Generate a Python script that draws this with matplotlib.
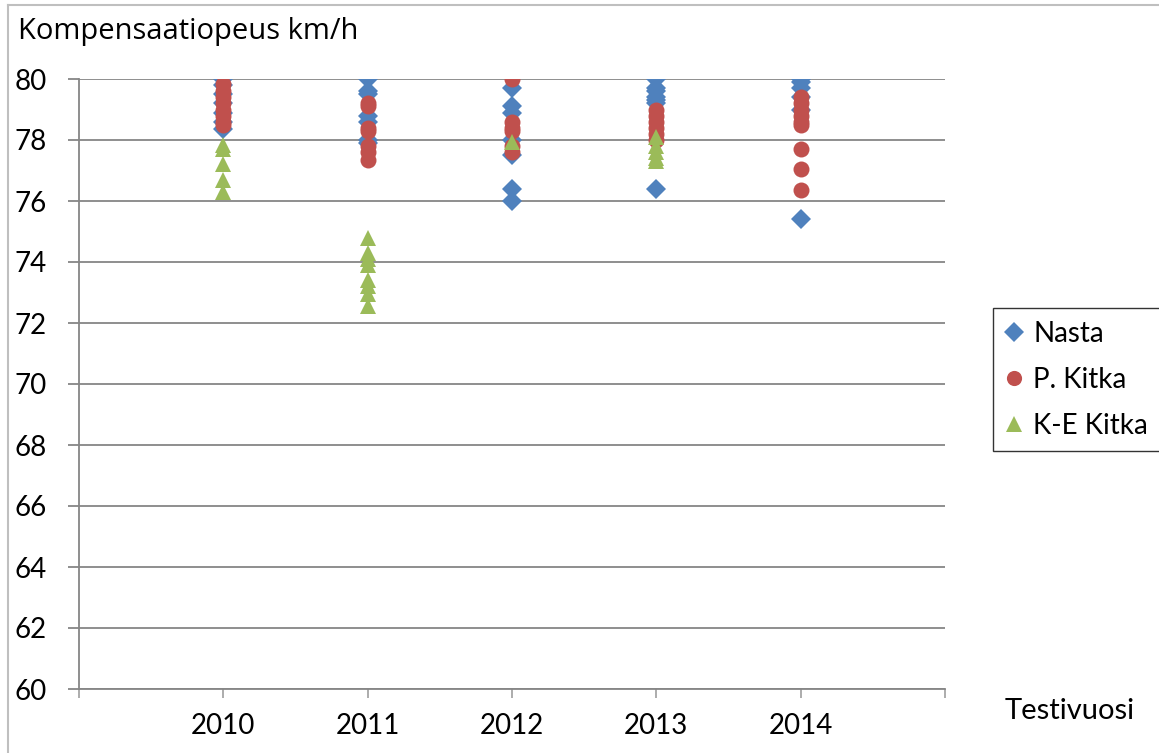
import matplotlib
matplotlib.use("Agg")
import matplotlib.pyplot as plt
from matplotlib.lines import Line2D

plt.rcParams["font.family"] = ["Lato", "DejaVu Sans"]

years = [2010, 2011, 2012, 2013, 2014]

# compensation speeds per test year, one list per tyre group
nasta = {
    2010: [80.0, 79.8, 79.5, 79.2, 78.9, 78.6, 78.35],
    2011: [80.0, 79.6, 79.5, 78.8, 78.6, 78.0, 77.9],
    2012: [79.7, 79.1, 78.9, 78.0, 77.5, 76.4, 76.0],
    2013: [80.0, 79.7, 79.6, 79.4, 79.3, 79.2, 76.4],
    2014: [80.0, 79.9, 79.7, 79.4, 79.0, 75.4],
}
p_kitka = {
    2010: [79.85, 79.6, 79.4, 79.2, 79.0, 78.8, 78.6, 78.5],
    2011: [79.2, 79.1, 78.4, 78.3, 77.8, 77.6, 77.35],
    2012: [80.0, 78.6, 78.4, 78.3, 77.8, 77.6],
    2013: [79.0, 78.8, 78.6, 78.4, 78.2, 78.0],
    2014: [79.4, 79.2, 79.0, 78.8, 78.6, 78.5, 77.7, 77.05, 76.35],
}
ke_kitka = {
    2010: [77.85, 77.7, 77.2, 76.7, 76.3],
    2011: [74.8, 74.3, 74.1, 73.9, 73.4, 73.2, 72.95, 72.55],
    2012: [77.95],
    2013: [78.1, 77.8, 77.6, 77.4, 77.3],
    2014: [],
}

series = [
    ("Nasta", nasta, "D", "#4F81BD", 10.5),
    ("P. Kitka", p_kitka, "o", "#C0504D", 11.5),
    ("K-E Kitka", ke_kitka, "^", "#9BBB59", 12),
]

W, H = 1159, 753
fig = plt.figure(figsize=(W / 100, H / 100), dpi=100)
ax = fig.add_axes([79 / W, (H - 689) / H, 866 / W, 610 / H])

grid_col = "#868686"
handles = []
for name, data, mk, col, ms in series:
    xs, ys = [], []
    for yr in years:
        xs += [yr] * len(data[yr])
        ys += data[yr]
    ax.plot(xs, ys, linestyle="none", marker=mk, color=col, markersize=ms,
            markeredgewidth=0, zorder=3)
    handles.append(Line2D([], [], linestyle="none", marker=mk, color=col,
                          markersize=ms * 0.95, markeredgewidth=0, label=name))

ax.set_xlim(2009, 2015)
ax.set_ylim(60, 80)
ax.set_yticks(range(60, 81, 2))
ax.set_xticks(range(2009, 2016))
ax.set_xticklabels([""] + [str(y) for y in years] + [""])

ax.grid(axis="y", color=grid_col, linewidth=1.3, zorder=1)
for s in ["top", "right"]:
    ax.spines[s].set_visible(False)
for s in ["left", "bottom"]:
    ax.spines[s].set_color(grid_col)
    ax.spines[s].set_linewidth(1.3)
ax.tick_params(axis="y", length=8, width=1.3, color=grid_col, pad=15,
               labelsize=20, labelcolor="black")
ax.tick_params(axis="x", length=6.5, width=1.3, color="#A6A6A6", pad=11,
               labelsize=20, labelcolor="black")

fig.text(18 / W, 1 - 31 / H, "Kompensaatiopeus km/h", fontsize=21,
         family=["Open Sans", "DejaVu Sans"], ha="left", va="center")
fig.text(1005 / W, 1 - 711 / H, "Testivuosi", fontsize=21,
         ha="left", va="center")

leg = fig.legend(handles=handles, loc="upper left",
                 bbox_to_anchor=(993 / W, 1 - 308 / H), fontsize=20,
                 frameon=True, fancybox=False, handlelength=0.6,
                 handletextpad=0.4, borderpad=0.45, labelspacing=0.72,
                 borderaxespad=0)
leg.get_frame().set_edgecolor("black")
leg.get_frame().set_linewidth(1.0)

# chart area border (left and top edges)
fig.add_artist(Line2D([8 / W, 8 / W], [0, 1 - 5 / H], color="#BFBFBF",
                      linewidth=1.5, transform=fig.transFigure))
fig.add_artist(Line2D([8 / W, 1], [1 - 5 / H, 1 - 5 / H], color="#BFBFBF",
                      linewidth=1.5, transform=fig.transFigure))

fig.savefig("out.png", dpi=100)
